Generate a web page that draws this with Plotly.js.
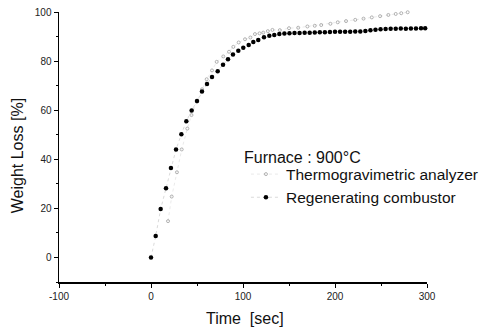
<!DOCTYPE html>
<html>
<head>
<meta charset="utf-8">
<script src="https://cdn.plot.ly/plotly-3.0.1.min.js"></script>
<style>html,body{margin:0;padding:0;background:#fff}#chart{width:485px;height:331px}</style>
</head>
<body>
<div id="chart"></div>
<script>
// Thermogravimetric analyzer (grey specks)
const tgaTime = [18.5, 22.5, 28.2, 33.4, 39.5, 44, 50, 55.5, 60.5, 66.3, 71.4, 78.6, 84.8, 89.5, 95.3, 102.2,
  108, 113, 118, 122, 127, 132, 140, 150, 160, 170, 178, 185, 195, 203, 212, 222, 231, 240, 249, 258, 266, 272, 279];
const tgaLoss = [14.8, 24.8, 34.7, 44, 52.5, 58, 63.5, 68.5, 72.6, 76.2, 79.7, 81.9, 83.8, 85.8, 87.6, 88.9,
  89.6, 91.0, 91.3, 91.6, 92.2, 92.7, 92.6, 93.4, 93.6, 94.1, 94.4, 94.7, 95.2, 95.8, 96.3, 96.8, 97.3, 97.8, 98.3, 98.8, 99.2, 99.5, 99.9];

// Regenerating combustor (black dots)
const rcTime = [0, 5.1, 10.5, 16.3, 21.7, 27.2, 33, 38.4, 44.2, 50, 55.4, 60.9, 66.3, 72.5, 78.3, 83.7, 89.1, 94.9,
  100.3, 106.2, 111.2, 116.6, 122.8, 128.6, 134, 139.5, 145, 150.5, 156, 161.5, 167, 172.5, 178, 183.5, 189, 194.5,
  200, 205.5, 211, 216.5, 222, 227.5, 233, 238.5, 244, 249.5, 255, 260.5, 266, 271.5, 277, 282.5, 288, 293.5, 298];
const rcLoss = [0, 8.7, 19.7, 28.2, 36.4, 44, 50.2, 55.5, 59.9, 63.7, 67.6, 70.7, 73.5, 75.9, 78.5, 80.7, 82.7, 84.2,
  85.4, 86.6, 87.8, 88.6, 89.7, 90.3, 90.6, 91.0, 91.2, 91.3, 91.4, 91.4, 91.5, 91.5, 91.6, 91.7, 91.8, 91.9,
  92.0, 92.0, 92.0, 92.0, 92.1, 92.1, 92.3, 92.6, 92.8, 93.0, 93.1, 93.2, 93.2, 93.3, 93.2, 93.3, 93.3, 93.4, 93.4];

const xTicks = [-100, 0, 100, 200, 300];
const yTicks = [0, 20, 40, 60, 80, 100];

const FONT = 'Liberation Sans, Arial, sans-serif';

const traces = [
  {
    x: tgaTime, y: tgaLoss, name: 'Thermogravimetric analyzer', type: 'scatter', mode: 'lines+markers',
    line: {color: '#e4e4e4', width: 0.8, dash: 'dot'},
    marker: {symbol: 'circle-open', size: 3, color: '#a0a0a0', line: {width: 0.8, color: '#a0a0a0'}},
    cliponaxis: false
  },
  {
    x: rcTime, y: rcLoss, name: 'Regenerating combustor', type: 'scatter', mode: 'lines+markers',
    line: {color: '#d0d0d0', width: 0.8, dash: 'dot'},
    marker: {symbol: 'circle', size: 4.5, color: '#000'},
    cliponaxis: false
  }
];

const layout = {
  width: 485, height: 331,
  margin: {l: 59, r: 58, t: 12, b: 49, autoexpand: false},
  paper_bgcolor: '#fff', plot_bgcolor: '#fff',
  font: {family: FONT, color: '#111'},
  showlegend: true,
  legend: {
    x: 0.508, y: 0.461, xanchor: 'left', yanchor: 'top',
    font: {family: FONT, size: 15.5, color: '#111'},
    bgcolor: 'rgba(0,0,0,0)', borderwidth: 0, tracegroupgap: 0
  },
  xaxis: {
    range: [-100, 300], showgrid: false, zeroline: false,
    showline: true, linecolor: '#000', linewidth: 1.5, mirror: false,
    ticks: 'outside', ticklen: 4, tickwidth: 1, tickcolor: '#000',
    tickmode: 'array', tickvals: xTicks, ticktext: xTicks.map(String),
    tickfont: {family: FONT, size: 10, color: '#222'},
    minor: {dtick: 50, ticks: 'outside', ticklen: 2, tickcolor: '#000', showgrid: false}
  },
  yaxis: {
    range: [-10, 100], showgrid: false, zeroline: false,
    showline: true, linecolor: '#000', linewidth: 1.5, mirror: false,
    ticks: 'outside', ticklen: 4, tickwidth: 1, tickcolor: '#000',
    tickmode: 'array', tickvals: yTicks, ticktext: yTicks.map(String),
    tickfont: {family: FONT, size: 10, color: '#222'},
    minor: {dtick: 10, ticks: 'outside', ticklen: 2, tickcolor: '#000', showgrid: false}
  },
  annotations: [
    {text: 'Time  [sec]', xref: 'paper', yref: 'paper', x: 0.505, y: -0.135, xanchor: 'center', yanchor: 'middle',
     showarrow: false, font: {family: FONT, size: 16, color: '#111'}},
    {text: 'Weight Loss [%]', xref: 'paper', yref: 'paper', x: -0.114, y: 0.466, xanchor: 'center', yanchor: 'middle',
     textangle: -90, showarrow: false, font: {family: FONT, size: 16, color: '#111'}},
    {text: 'Furnace : 900°C', xref: 'paper', yref: 'paper', x: 0.4965, y: 0.462, xanchor: 'left', yanchor: 'middle',
     showarrow: false, font: {family: FONT, size: 16, color: '#111'}}
  ]
};

Plotly.newPlot('chart', traces, layout, {displayModeBar: false, staticPlot: true});
</script>
</body>
</html>
